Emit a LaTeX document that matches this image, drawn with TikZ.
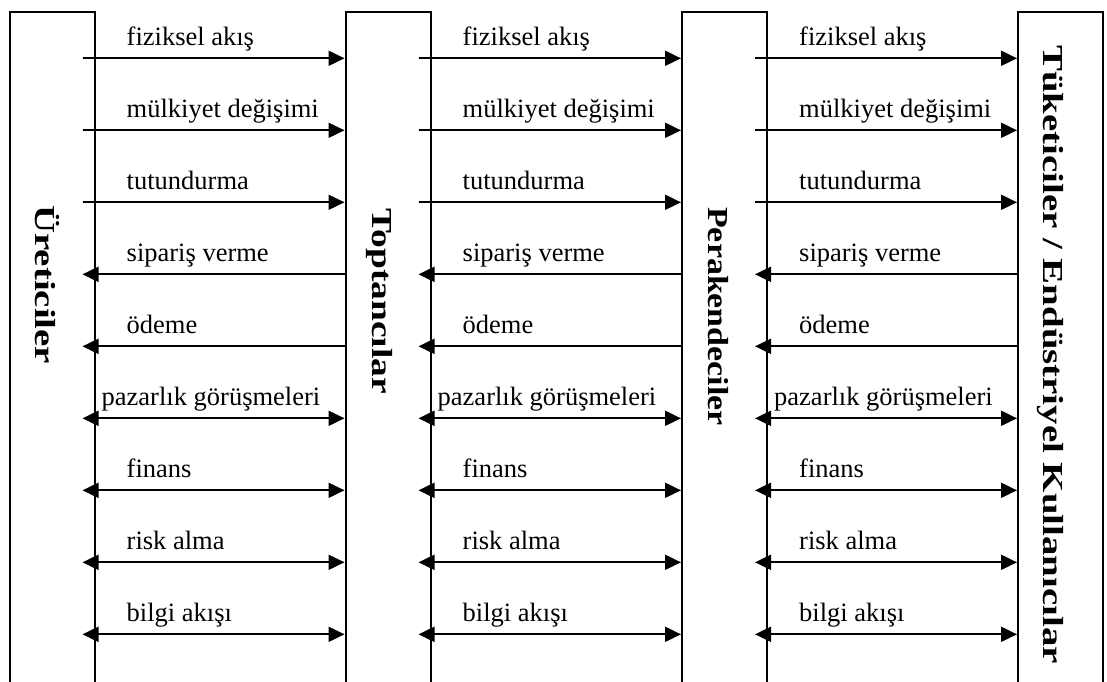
\documentclass[tikz,border=0pt]{standalone}
\usepackage{fontspec}
\usepackage{graphicx}
\setmainfont{Liberation Serif}
\usetikzlibrary{arrows.meta}
\begin{document}
\begin{tikzpicture}[x=1pt,y=-1pt,
  party/.style={draw, line width=2pt, minimum width=85pt, minimum height=720pt,
    anchor=north west, inner sep=0pt},
  flow/.style={line width=2pt},
  fwd/.style={flow, -{Triangle[length=16pt,width=15pt]}},
  back/.style={flow, {Triangle[length=16pt,width=15pt]}-},
  both/.style={flow, {Triangle[length=16pt,width=15pt]}-{Triangle[length=16pt,width=15pt]}},
  lbl/.style={anchor=base west, inner sep=0pt, font=\fontsize{26.5}{30}\selectfont},
  side/.style={rotate=-90, anchor=base west, inner sep=0pt,
    font=\bfseries\fontsize{29}{30}\selectfont}]
  \useasboundingbox (0,0) rectangle (1107,681);
  \clip (0,0) rectangle (1107,681);

  % the four members of the channel
  \node[party] (prod)   at (8.5,10.5) {};
  \node[party] (whole)  at (344.5,10.5) {};
  \node[party] (retail) at (681,10.5) {};
  \node[party] (cons)   at (1017,10.5) {};

  \node[side] (tprod)   at (35,205)   {\scalebox{1.34}[1]{Üreticiler}};
  \node[side] (twhole)  at (372,208)  {\scalebox{1.29}[1]{Toptancılar}};
  \node[side] (tretail) at (708,207)  {\scalebox{1.17}[1]{Perakendeciler}};
  \node[side] (tcons)   at (1043,45)  {\scalebox{1.34}[1]{Tüketiciler / Endüstriyel Kullanıcılar}};

  % one row per marketing flow
  \foreach \i in {1,...,9} {
    \coordinate (r\i) at (0,{58.3+72*(\i-1)});
  }

  \foreach \i/\txt/\kind/\dx in {
      1/fiziksel akış/fwd/31,
      2/mülkiyet değişimi/fwd/31,
      3/tutundurma/fwd/31,
      4/sipariş verme/back/31,
      5/ödeme/back/31,
      6/pazarlık görüşmeleri/both/6,
      7/finans/both/31,
      8/risk alma/both/31,
      9/bilgi akışı/both/31} {
    \foreach \a/\b in {prod/whole, whole/retail, retail/cons} {
      \draw[\kind] ([xshift=-13pt]\a.east |- r\i) -- (\b.west |- r\i);
      \node[lbl] (l\i\a) at ([xshift=\dx pt, yshift=13pt]\a.east |- r\i) {\txt};
    }
  }
\end{tikzpicture}
\end{document}
